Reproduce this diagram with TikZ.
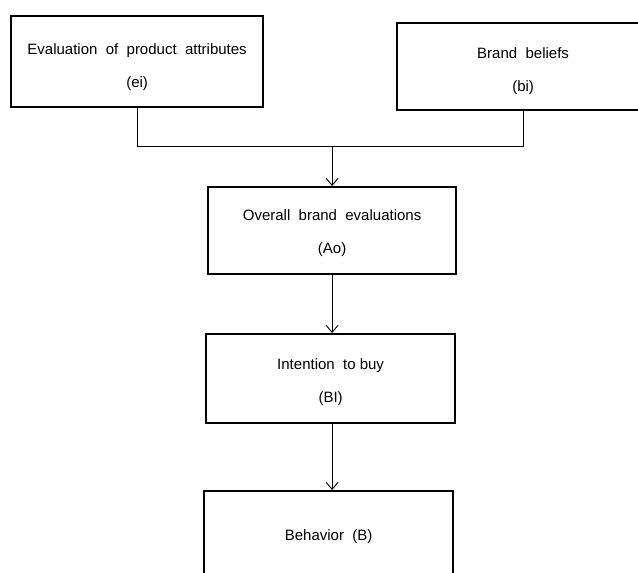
\documentclass[tikz,border=0pt]{standalone}
\usepackage{fontspec}
\setmainfont{Liberation Sans}
\usetikzlibrary{arrows.meta}
\begin{document}
\begin{tikzpicture}[x=1pt,y=-1pt,
  stagebox/.style={draw, line width=2.2pt, anchor=north west, align=center,
    inner sep=0pt, font=\fontsize{15}{33}\selectfont},
  link/.style={line width=0.9pt},
  flow/.style={link, -{Straight Barb[length=7pt,width=12pt,line width=0.9pt]}}]
  \useasboundingbox (0,0) rectangle (638,573);
  \clip (0,0) rectangle (638,573);
  % upper pair of inputs
  \node[stagebox, minimum width=252pt, minimum height=91pt] (attr) at (10,15)
    {\strut\\[-34pt]Evaluation\ \ of\ \ product\ \ attributes\\(ei)};
  \node[stagebox, minimum width=252pt, minimum height=87pt] (beliefs) at (396,22)
    {\strut\\[-36pt]Brand\ \ beliefs\\(bi)};
  % main chain
  \node[stagebox, minimum width=248pt, minimum height=87pt] (overall) at (207,186)
    {\strut\\[-40pt]Overall\ \ brand\ \ evaluations\\(Ao)};
  \node[stagebox, minimum width=249pt, minimum height=89pt] (intent) at (205,333)
    {\strut\\[-38pt]Intention\ \ to buy\\(BI)};
  \node[stagebox, minimum width=249pt, minimum height=112pt] (behav) at (203,490)
    {Behavior\ \ (B)\\[-9pt]\mbox{}};
  % connectors
  \coordinate (join) at (overall.north |- 0,146);
  \draw[link] (attr.south) |- (join);
  \draw[link] (beliefs.south) |- (join);
  \draw[flow] (join) -- (overall.north);
  \draw[flow] (overall.south) -- (overall.south |- intent.north);
  \draw[flow] (overall.south |- intent.south) -- (overall.south |- behav.north);
\end{tikzpicture}
\end{document}
